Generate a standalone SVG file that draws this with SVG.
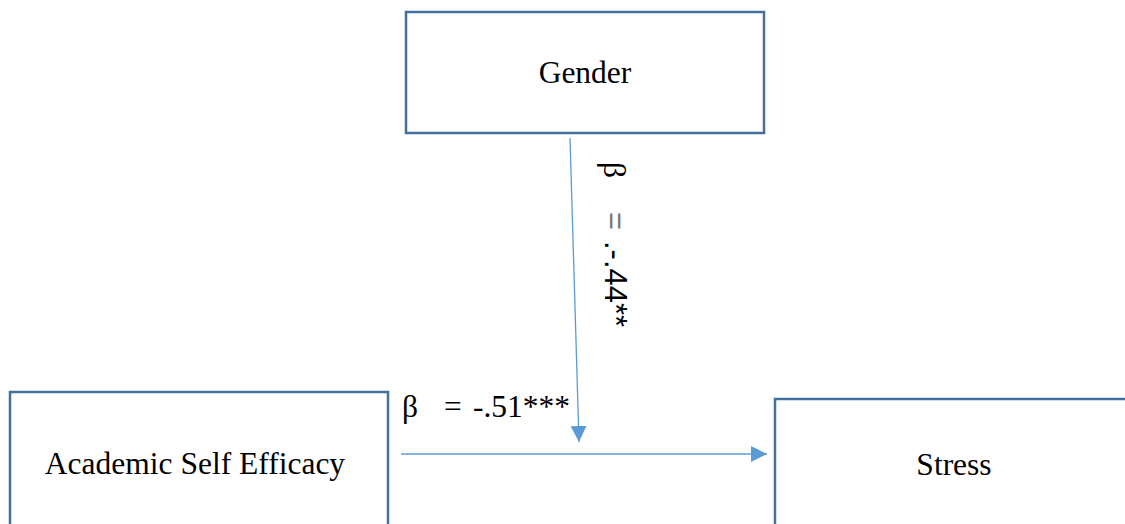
<svg xmlns="http://www.w3.org/2000/svg" width="1125" height="524" viewBox="0 0 1125 524">
  <style>
    .box { fill: #ffffff; stroke: #41719C; stroke-width: 2.5; }
    .lbl { font-family: "Liberation Serif", "Times New Roman", serif; font-size: 31.5px; fill: #000000; }
    .conn { stroke: #5B9BD5; stroke-width: 1.3; fill: none; marker-end: url(#arrow); }
    .sans { font-family: "Liberation Sans", Arial, sans-serif; font-size: 31px; fill: #000000; }
  </style>
  <defs>
    <marker id="arrow" viewBox="0 0 16 16" refX="16" refY="8" markerWidth="16" markerHeight="16" markerUnits="userSpaceOnUse" orient="auto">
      <path d="M0,0 L16,8 L0,16 Z" fill="#5B9BD5"/>
    </marker>
  </defs>
  <rect x="0" y="0" width="1125" height="524" fill="#ffffff"/>

  <g id="gender">
    <rect class="box" x="406" y="12" width="358" height="121"/>
    <text class="lbl" x="585" y="83" text-anchor="middle">Gender</text>
  </g>

  <g id="academic-self-efficacy">
    <rect class="box" x="10" y="392" width="378" height="160"/>
    <text class="lbl" x="195" y="474" text-anchor="middle">Academic Self Efficacy</text>
  </g>

  <g id="stress">
    <rect class="box" x="775" y="399" width="370" height="160"/>
    <text class="lbl" x="954" y="475" text-anchor="middle">Stress</text>
  </g>

  <g id="connectors">
    <line class="conn" x1="570" y1="138" x2="579" y2="442"/>
    <line class="conn" x1="401" y1="454" x2="767" y2="454"/>
  </g>

  <g id="labels">
    <text class="lbl" x="402" y="417">β</text>
    <text class="lbl" x="444" y="417">=</text>
    <text class="lbl" x="473" y="417">-.51***</text>

    <text class="lbl" transform="translate(604,162) rotate(90)">β</text>
    <text class="sans" transform="translate(605,212) rotate(90)" style="fill:#777777">=</text>
    <text class="sans" transform="translate(605,241) rotate(90)">.-.44**</text>
  </g>
</svg>
